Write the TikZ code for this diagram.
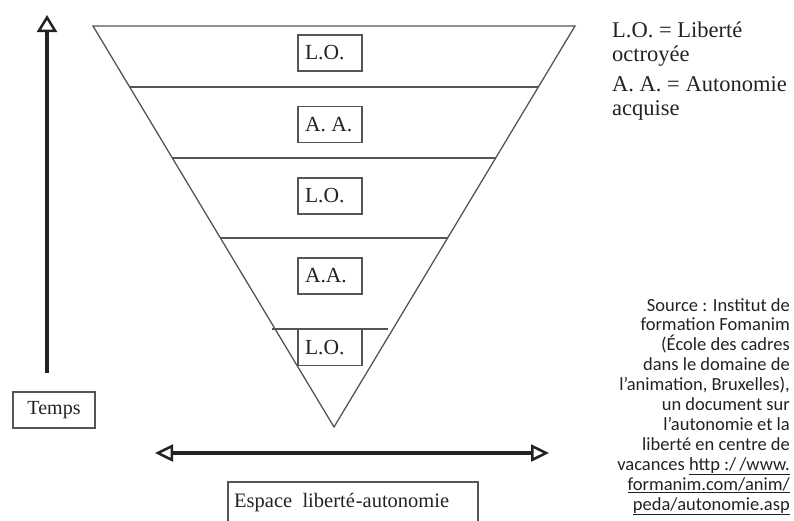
\documentclass[tikz,border=0pt]{standalone}
\usepackage{fontspec}
\setmainfont{Liberation Serif}
\newfontfamily\srcfont{Carlito}
\usetikzlibrary{arrows.meta,calc}
\definecolor{linegray}{HTML}{555555}
\definecolor{inkdark}{HTML}{222222}
\newcommand{\boxlabel}[1]{\makebox[50pt][l]{#1}}
\tikzset{
  tri/.style={draw=linegray,line width=1.3pt},
  lbox/.style={draw=linegray,line width=1.2pt,inner sep=0pt,inner xsep=7pt,minimum height=36pt,font=\fontsize{21.5}{24}\selectfont,text=inkdark},
  legend/.style={anchor=base west,inner sep=0pt,align=left,font=\fontsize{22.5}{24}\selectfont,text=inkdark},
  bigarrow/.style={draw=inkdark,line width=4pt,-{Triangle[open,length=17pt,width=20pt,line width=2.5pt]}},
  dblarrow/.style={draw=inkdark,line width=4pt,{Triangle[open,length=18pt,width=17pt,line width=2.5pt]}-{Triangle[open,length=18pt,width=17pt,line width=2.5pt]}},
}
\begin{document}
\begin{tikzpicture}[x=1pt,y=-1pt]
\useasboundingbox (0,0) rectangle (794,520);
% triangle
\coordinate (tl) at (93,26);
\coordinate (tr) at (575,26);
\coordinate (ap) at (334,427);
\draw[tri] (tl) -- (tr) -- (ap) -- cycle;
\draw[tri] ($(tl)!0.152!(ap)$) -- ($(tr)!0.152!(ap)$);
\draw[tri] ($(tl)!0.329!(ap)$) -- ($(tr)!0.329!(ap)$);
\draw[tri] ($(tl)!0.529!(ap)$) -- ($(tr)!0.529!(ap)$);
\coordinate (sl) at (272,329);
\coordinate (sr) at (388,329);
\draw[tri] (sl) -- (sr);
% boxes
\node[lbox] (b1) at (330,53) {\boxlabel{L.O.}};
\node[lbox] (b2) at (330,124.5) {\boxlabel{A. A.}};
\node[lbox] (b3) at (330,196) {\boxlabel{L.O.}};
\node[lbox] (b4) at (330,276) {\boxlabel{A.A.}};
\node[lbox] (b5) at (330,347.5) {\boxlabel{L.O.}};
% time arrow
\coordinate (tbot) at (47,373);
\coordinate (ttop) at (47,15);
\draw[bigarrow] (tbot) -- (ttop);
\node[draw=linegray,line width=1.2pt,minimum width=82pt,minimum height=36pt,inner sep=0pt,font=\fontsize{20}{22}\selectfont,text=inkdark] (temps) at (54,410) {Temps};
% space arrow
\coordinate (hl) at (155,453);
\coordinate (hr) at (549,453);
\draw[dblarrow] (hl) -- (hr);
\node[anchor=base west,inner sep=0pt,font=\fontsize{20.5}{24}\selectfont,text=inkdark] (esp) at (234,507) {Espace\ \ liberté\kern1pt-autonomie};
\draw[linegray,line width=1.2pt] (228,522) -- (228,482) -- (478,482) -- (478,522);
% legend
\node[legend] (leg1) at (612,61) {L.O. = Liberté\\octroyée};
\node[legend] (leg2) at (612,115) {A. A. = Autonomie\\acquise};
% source
\node[anchor=north east,inner sep=0pt,align=right,font=\srcfont\fontsize{18.5}{19.9}\selectfont,text=inkdark] (src) at (790,298) {Source : Institut de\\formation Fomanim\\(École des cadres\\dans le domaine de\\l’animation, Bruxelles),\\un document sur\\l’autonomie et la\\liberté en centre de\\vacances \underline{http :/\,/www.}\\\underline{formanim.com/anim/}\\\underline{peda/autonomie.asp}};
\end{tikzpicture}
\end{document}
